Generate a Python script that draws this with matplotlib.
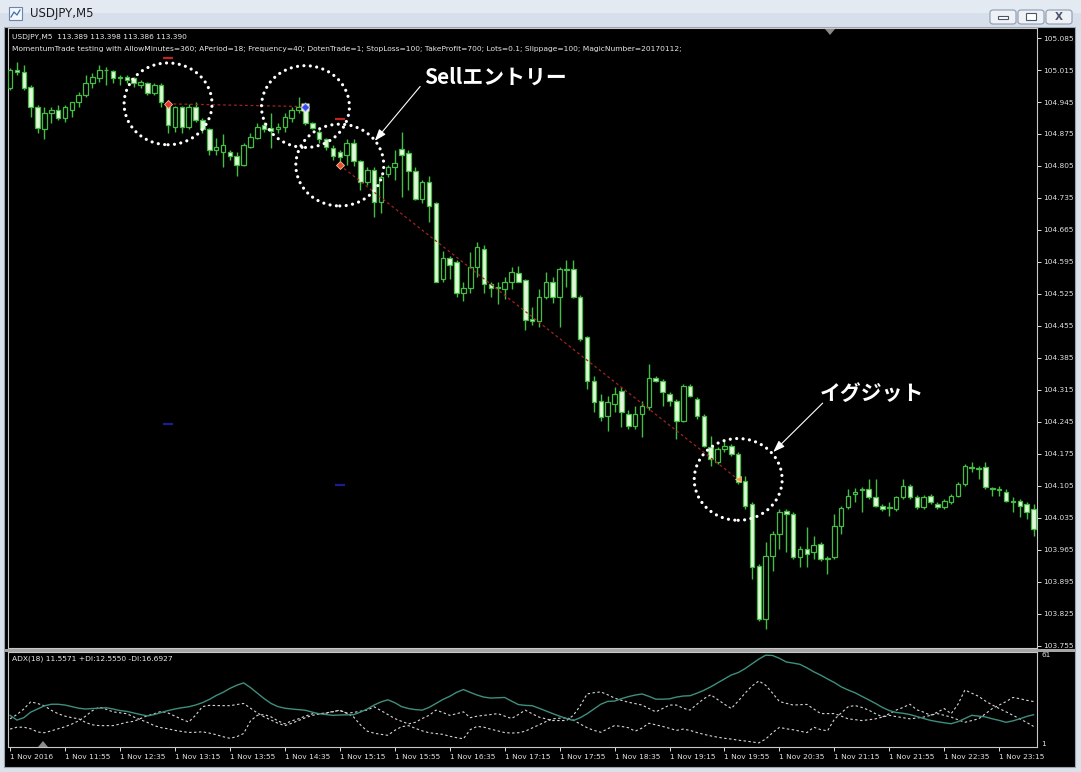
import numpy as np
import matplotlib
matplotlib.use('Agg')
import matplotlib.pyplot as plt
from matplotlib.patches import Ellipse, Rectangle, FancyBboxPatch, Polygon
from matplotlib.transforms import blended_transform_factory

# ---------------- data ----------------
window_title = "USDJPY,M5"
symbol_line = "USDJPY,M5  113.389 113.398 113.386 113.390"
ea_line = ("MomentumTrade testing with AllowMinutes=360; APeriod=18; Frequency=40; DotenTrade=1; "
           "StopLoss=100; TakeProfit=700; Lots=0.1; Slippage=100; MagicNumber=20170112;")
adx_line = "ADX(18) 11.5571 +DI:12.5550 -DI:16.6927"

opens = [104.976, 105.016, 105.011, 104.978, 104.933, 104.885, 104.922, 104.928, 104.911, 104.928,
         104.946, 104.961, 104.987, 104.998, 105.016, 105.013, 105.000, 105.000, 104.998, 104.983,
         104.987, 104.965, 104.983, 104.939, 104.891, 104.933, 104.891, 104.933, 104.906, 104.885,
         104.841, 104.836, 104.836, 104.826, 104.808, 104.847, 104.867, 104.895, 104.889, 104.885,
         104.891, 104.911, 104.928, 104.939, 104.898, 104.880, 104.863, 104.845, 104.836, 104.830,
         104.856, 104.815, 104.771, 104.797, 104.727, 104.788, 104.802, 104.843, 104.834, 104.793,
         104.732, 104.769, 104.725, 104.557, 104.603, 104.594, 104.528, 104.539, 104.583, 104.624,
         104.546, 104.541, 104.535, 104.550, 104.570, 104.555, 104.469, 104.465, 104.518, 104.550,
         104.518, 104.579, 104.579, 104.518, 104.430, 104.334, 104.290, 104.257, 104.283, 104.312,
         104.262, 104.235, 104.262, 104.277, 104.342, 104.334, 104.305, 104.290, 104.246, 104.323,
         104.294, 104.257, 104.189, 104.157, 104.185, 104.192, 104.174, 104.115, 104.065, 103.929,
         103.814, 103.951, 103.999, 104.050, 104.043, 103.949, 103.966, 103.960, 103.977, 103.945,
         103.949, 104.017, 104.058, 104.087, 104.098, 104.098, 104.080, 104.060, 104.058, 104.054,
         104.080, 104.104, 104.080, 104.058, 104.082, 104.065, 104.058, 104.069, 104.082, 104.109,
         104.146, 104.144, 104.146, 104.100, 104.098, 104.091, 104.071, 104.071, 104.065, 104.054]
highs = [105.020, 105.033, 105.027, 104.983, 104.939, 104.933, 104.935, 104.939, 104.939, 104.946,
         104.968, 105.005, 105.009, 105.027, 105.022, 105.016, 105.005, 105.005, 105.000, 104.994,
         104.989, 104.987, 104.987, 104.941, 104.937, 104.937, 104.941, 104.946, 104.911, 104.889,
         104.867, 104.874, 104.841, 104.836, 104.856, 104.878, 104.900, 104.902, 104.922, 104.898,
         104.922, 104.935, 104.957, 104.946, 104.902, 104.885, 104.867, 104.852, 104.841, 104.863,
         104.863, 104.819, 104.802, 104.802, 104.786, 104.808, 104.841, 104.880, 104.841, 104.802,
         104.775, 104.782, 104.727, 104.618, 104.607, 104.600, 104.552, 104.616, 104.638, 104.633,
         104.552, 104.552, 104.561, 104.583, 104.585, 104.557, 104.496, 104.535, 104.572, 104.563,
         104.583, 104.600, 104.600, 104.522, 104.432, 104.345, 104.305, 104.301, 104.321, 104.321,
         104.272, 104.279, 104.290, 104.371, 104.345, 104.338, 104.310, 104.294, 104.327, 104.327,
         104.299, 104.262, 104.213, 104.189, 104.203, 104.196, 104.178, 104.126, 104.069, 103.934,
         103.982, 104.006, 104.054, 104.054, 104.047, 103.973, 104.015, 103.995, 103.982, 103.951,
         104.043, 104.060, 104.098, 104.100, 104.102, 104.119, 104.119, 104.065, 104.069, 104.082,
         104.119, 104.109, 104.085, 104.085, 104.087, 104.069, 104.076, 104.087, 104.113, 104.152,
         104.157, 104.148, 104.157, 104.102, 104.104, 104.098, 104.080, 104.076, 104.069, 104.065]
lows = [104.972, 105.005, 104.972, 104.913, 104.878, 104.863, 104.900, 104.906, 104.902, 104.913,
        104.935, 104.957, 104.976, 104.989, 104.983, 104.987, 104.983, 104.987, 104.978, 104.976,
        104.961, 104.961, 104.935, 104.878, 104.880, 104.878, 104.885, 104.902, 104.878, 104.830,
        104.830, 104.802, 104.819, 104.782, 104.804, 104.845, 104.863, 104.880, 104.845, 104.878,
        104.880, 104.902, 104.922, 104.895, 104.885, 104.856, 104.841, 104.819, 104.815, 104.808,
        104.804, 104.753, 104.764, 104.694, 104.703, 104.780, 104.775, 104.738, 104.753, 104.730,
        104.725, 104.683, 104.550, 104.550, 104.557, 104.518, 104.509, 104.528, 104.563, 104.528,
        104.518, 104.502, 104.513, 104.535, 104.550, 104.447, 104.458, 104.452, 104.513, 104.506,
        104.452, 104.541, 104.517, 104.421, 104.316, 104.266, 104.246, 104.224, 104.266, 104.233,
        104.229, 104.229, 104.211, 104.272, 104.332, 104.279, 104.279, 104.207, 104.244, 104.299,
        104.251, 104.189, 104.148, 104.152, 104.178, 104.170, 104.109, 104.054, 103.901, 103.809,
        103.792, 103.918, 103.966, 103.960, 103.945, 103.927, 103.927, 103.945, 103.940, 103.912,
        103.945, 103.999, 104.054, 104.069, 104.047, 104.076, 104.058, 104.050, 104.039, 104.050,
        104.076, 104.076, 104.054, 104.054, 104.065, 104.054, 104.054, 104.065, 104.080, 104.104,
        104.135, 104.119, 104.098, 104.082, 104.082, 104.069, 104.047, 104.036, 104.032, 103.995]
closes = [105.016, 105.011, 104.976, 104.933, 104.889, 104.922, 104.928, 104.911, 104.933, 104.944,
          104.961, 104.987, 105.000, 105.016, 105.014, 104.998, 104.998, 104.994, 104.987, 104.989,
          104.965, 104.983, 104.944, 104.895, 104.933, 104.891, 104.933, 104.906, 104.885, 104.841,
          104.847, 104.852, 104.826, 104.808, 104.852, 104.869, 104.891, 104.885, 104.882, 104.891,
          104.913, 104.928, 104.933, 104.900, 104.889, 104.863, 104.847, 104.826, 104.824, 104.856,
          104.815, 104.771, 104.797, 104.727, 104.780, 104.802, 104.812, 104.830, 104.793, 104.732,
          104.771, 104.718, 104.552, 104.603, 104.589, 104.528, 104.539, 104.583, 104.627, 104.546,
          104.539, 104.537, 104.550, 104.572, 104.552, 104.467, 104.465, 104.518, 104.550, 104.518,
          104.579, 104.577, 104.518, 104.426, 104.334, 104.288, 104.255, 104.288, 104.305, 104.266,
          104.235, 104.262, 104.279, 104.342, 104.334, 104.310, 104.290, 104.246, 104.323, 104.301,
          104.257, 104.192, 104.163, 104.185, 104.192, 104.174, 104.113, 104.060, 103.927, 103.814,
          103.951, 103.999, 104.047, 104.043, 103.949, 103.966, 103.956, 103.975, 103.945, 103.947,
          104.017, 104.056, 104.082, 104.091, 104.096, 104.080, 104.060, 104.054, 104.056, 104.080,
          104.104, 104.080, 104.058, 104.080, 104.069, 104.058, 104.071, 104.082, 104.109, 104.148,
          104.144, 104.142, 104.102, 104.098, 104.096, 104.071, 104.069, 104.060, 104.047, 104.010]

adx = [21, 18, 19.5, 23, 25, 27, 28, 28, 27.5, 26.5, 25.5, 25, 25.3, 25.5, 25.8, 25, 24, 23.5, 22.5, 21.5,
       20.6, 21.5, 22.8, 24, 25, 25.8, 26.4, 27.5, 29, 31, 33.5, 35.5, 38, 40, 41.5, 38.5, 35, 31.5, 28.5, 26.5,
       25.5, 25, 24.6, 24.2, 23, 22, 21.5, 21, 21.2, 21.3, 21.4, 23, 25, 27.5, 29.5, 30.8, 29, 26.5, 25.3, 24.6,
       24.3, 26, 28.5, 31, 33, 35.5, 37.3, 35.5, 33.8, 32.5, 31.9, 32.1, 32.3, 30, 27.8, 27.3, 27.1, 25.5, 23.8, 22.1,
       20.5, 19, 17.7, 19.5, 22, 25, 28, 29.8, 30, 31.5, 32.8, 33.8, 34.5, 33, 31.2, 31.2, 31.4, 32.5, 33.2, 33.4,
       35, 36.8, 39, 41.5, 44, 46.5, 48, 50.5, 53.5, 56.5, 59, 58.8, 57, 54.7, 54, 53.2, 51, 48.5, 46.4, 44,
       41.7, 39, 37, 35.3, 33, 30.8, 28.5, 26, 24, 22.8, 22.3, 21.5, 20.3, 19, 17.8, 17, 16.3, 15.7, 17, 19,
       21, 20.5, 20, 18.8, 17.8, 16.6, 17.5, 18.8, 20.3, 21.4]
plus_di = [12.3, 13.5, 13.5, 12.5, 10.5, 10, 11.2, 12.5, 13.8, 15.5, 17.5, 20.5, 24, 26.2, 24.8, 23.2, 22.6, 22, 20, 18.2,
           16.5, 14.5, 13.2, 12.5, 11.5, 10.8, 10.2, 10.3, 10.6, 9.8, 8.8, 7.5, 6.5, 7.5, 9.5, 17.5, 21, 21.5, 20, 17.5,
           15.6, 17.5, 18.8, 20.5, 22, 22.1, 22.3, 23.5, 24, 22.5, 20, 15, 11, 9.7, 9, 8.4, 11.5, 13.8, 14.5, 12.8,
           11.2, 10, 9.5, 9, 7.8, 6.9, 6.2, 12, 14, 13.5, 12.2, 11.2, 10.1, 9.8, 10, 11, 13, 15, 17, 18.8,
           19.2, 19.5, 18, 15.5, 13.2, 11.5, 10.3, 12.5, 14.5, 14, 13.2, 11, 13, 16, 15, 14, 12.8, 11.5, 12.3, 11.5,
           10.1, 9, 8, 7.2, 6.5, 6, 5.3, 4.8, 4.2, 3.6, 6, 10, 13.4, 12.5, 11.9, 11, 10.1, 13.5, 12, 11.2,
           18.5, 22.5, 26.4, 27.2, 26, 24.3, 22, 20, 22, 24.3, 26, 28, 24.5, 23, 21, 23, 25.3, 22, 28, 37,
           35, 33, 30, 27.5, 25.3, 23.2, 21, 18.8, 16.5, 14]
minus_di = [18.8, 21.5, 25, 29.5, 28.5, 27, 24.2, 22, 20.5, 19.5, 18.8, 16.5, 15, 14.5, 14.5, 14.5, 15.5, 16.6, 17.2, 19,
            20.8, 22, 23.5, 22.5, 20.5, 18.5, 16.8, 21, 26.5, 27.3, 27.2, 27.1, 27.1, 27.8, 28.5, 25.5, 22.5, 20, 18, 16,
            14.5, 16, 17.7, 19.5, 21, 21.8, 22.6, 23.2, 24.3, 22.3, 22.8, 23.6, 24.3, 26.4, 24, 21.5, 19, 17.2, 15.6, 16.6,
            19, 21, 24.3, 22.8, 21, 22, 23.2, 19.5, 20.5, 21, 21.5, 22.1, 20.5, 19, 21.5, 24.3, 22, 19.9, 18.8, 17.7,
            17.7, 17.7, 21, 27, 34.5, 35.3, 35.8, 34, 31.9, 30.5, 29.3, 28.4, 27.5, 25.3, 23.2, 25.3, 27.5, 27.5, 25.5, 24.3,
            28, 31.5, 34, 31, 28, 25.3, 30, 35, 39.5, 42.7, 40, 35, 29.7, 28.6, 27.5, 27.7, 27.9, 25, 22.1, 22.1,
            22.1, 20.5, 18.8, 18.3, 17.7, 18.2, 18.8, 19.9, 21, 20.2, 19.5, 18.8, 19.3, 19.9, 21, 22.1, 21, 19.9, 18.2, 16.6,
            17.7, 18.8, 22, 25.3, 27.5, 29.7, 32.3, 31.5, 30.5, 29.7]

time_labels = ["1 Nov 2016", "1 Nov 11:55", "1 Nov 12:35", "1 Nov 13:15", "1 Nov 13:55", "1 Nov 14:35",
               "1 Nov 15:15", "1 Nov 15:55", "1 Nov 16:35", "1 Nov 17:15", "1 Nov 17:55", "1 Nov 18:35",
               "1 Nov 19:15", "1 Nov 19:55", "1 Nov 20:35", "1 Nov 21:15", "1 Nov 21:55", "1 Nov 22:35",
               "1 Nov 23:15"]
bars_per_label = 8
price_labels = ["105.085", "105.015", "104.945", "104.875", "104.805", "104.735", "104.665", "104.595",
                "104.525", "104.455", "104.385", "104.315", "104.245", "104.175", "104.105", "104.035",
                "103.965", "103.895", "103.825", "103.755"]
adx_scale_labels = ["61", "1"]

entry_bar = [23, 48]
entry_price = [104.941, 104.807]
exit_bar = [43, 106]
exit_price = [104.935, 104.119]
stop_loss_points = 100
take_profit_points = 700
point = 0.001

sell_text = "Sellエントリー"
exit_text = "イグジット"

# ---------------- figure ----------------
W, H = 1081, 772
fig = plt.figure(figsize=(W / 100, H / 100), dpi=100)
fig.patch.set_facecolor('#d9e1eb')

def fx(px):
    return px / W

def fy(py):
    return 1 - py / H

def frect(x0, y0, x1, y1, z=-10, **kw):
    r = Rectangle((fx(x0), fy(y1)), fx(x1) - fx(x0), fy(y0) - fy(y1), transform=fig.transFigure,
                  zorder=z, **kw)
    fig.add_artist(r)
    return r

# title bar
frect(0, 0, W, 26, facecolor='#e4eaf2', edgecolor='none')
frect(0, 13, W, 26, facecolor='#d7dfea', edgecolor='none')
fig.text(fx(30), fy(14), window_title, fontsize=8.5, color='#1e1e1e', va='center', ha='left')
# icon
frect(9, 7, 22, 20, z=5, facecolor='#f4f7fb', edgecolor='#6a86aa', lw=0.8)
fig.add_artist(plt.Line2D([fx(11), fx(14), fx(17), fx(20)], [fy(17), fy(12), fy(15), fy(10)],
                          transform=fig.transFigure, color='#3a6fb0', lw=0.9, zorder=6))
# buttons
for bx in (990, 1018, 1046):
    b = FancyBboxPatch((fx(bx), fy(24)), fx(26), fy(10) - fy(24), boxstyle='round,pad=0,rounding_size=0.003',
                       transform=fig.transFigure, facecolor='#eef2f7', edgecolor='#8d9bb0', lw=0.8, zorder=5)
    fig.add_artist(b)
frect(998, 16, 1008, 19, z=6, facecolor='white', edgecolor='#4a5668', lw=0.8)
frect(1026, 13, 1036, 20, z=6, facecolor='white', edgecolor='#4a5668', lw=0.8)
fig.text(fx(1059), fy(17), 'X', fontsize=7.5, color='#4a5668', ha='center', va='center',
         fontweight='bold', zorder=8)

# black chart window
frect(4, 27, 1075, 767, facecolor='black', edgecolor='#9aa4b0', lw=0.8)

# axes
ax = fig.add_axes([fx(8), fy(648), fx(1037) - fx(8), fy(28) - fy(648)])
ax2 = fig.add_axes([fx(8), fy(747), fx(1037) - fx(8), fy(652) - fy(747)])
frect(5, 648.5, 1075, 652, z=-5, facecolor='#a6a6a6', edgecolor='none')

for a in (ax, ax2):
    a.set_facecolor('black')
    for s in a.spines.values():
        s.set_color('#c8c8c8')
        s.set_linewidth(0.8)

o = np.array(opens); h = np.array(highs); l = np.array(lows); c = np.array(closes)
x = np.arange(len(o))
up = c >= o
green = '#45bd45'
bear_fill = '#e2f7da'
ax.vlines(x, l, h, color=green, lw=1.0, zorder=2)
bottom = np.minimum(o, c)
height = np.maximum(np.abs(c - o), 0.0006)
ax.bar(x[up], height[up], bottom=bottom[up], width=0.66, facecolor='black', edgecolor=green, lw=0.9, zorder=3)
ax.bar(x[~up], height[~up], bottom=bottom[~up], width=0.66, facecolor=bear_fill, edgecolor=green, lw=0.9, zorder=3)

ax.set_xlim(-0.3, len(o) - 0.5)
ax.set_ylim(103.750, 105.107)
price_vals = [float(p) for p in price_labels]
ax.yaxis.tick_right()
ax.set_yticks(price_vals)
ax.set_yticklabels(price_labels)
ax.tick_params(axis='y', colors='#e0e0e0', labelsize=5.3, length=3, width=0.7, pad=1.5)
ax.set_xticks([])

# trades
for eb, ep, xb, xp in zip(entry_bar, entry_price, exit_bar, exit_price):
    ax.plot([eb, xb], [ep, xp], color='#a3231f', lw=0.9, ls=(0, (2.2, 2.2)), zorder=4)
    ax.plot([eb], [ep + stop_loss_points * point], marker='_', ms=7, mew=1.6, color='#c02424', zorder=4)
    ax.plot([eb], [ep - take_profit_points * point], marker='_', ms=7, mew=1.6, color='#1c1c9a', zorder=4)
ax.plot(entry_bar[0], entry_price[0], marker='D', ms=4, mfc='#e0382a', mec='#ffb0a0', mew=0.6, zorder=6)
ax.plot(exit_bar[0], exit_price[0], marker='s', ms=6, mfc='#f3ecc8', mec='none', zorder=5)
ax.plot(exit_bar[0], exit_price[0], marker='D', ms=4, mfc='#3348f0', mec='#b0b8ff', mew=0.6, zorder=6)
ax.plot(entry_bar[1], entry_price[1], marker='D', ms=4, mfc='#e0502a', mec='#ffc0a0', mew=0.6, zorder=6)
ax.plot(exit_bar[1], exit_price[1], marker='<', ms=4.5, mfc='#e8a040', mec='#f6d090', mew=0.5, zorder=6)

# dotted circles around entries / exits
circ_w, circ_h = 12.8, 0.179
for cx, cy in [(entry_bar[0], entry_price[0]), (exit_bar[0], exit_price[0]),
               (entry_bar[1], entry_price[1]), (exit_bar[1], exit_price[1])]:
    e = Ellipse((cx, cy), circ_w, circ_h, fill=False, edgecolor='white', lw=2.3,
                ls=(0, (0.01, 2.0)), capstyle='round', zorder=7)
    ax.add_patch(e)

jp = ['Noto Sans CJK JP', 'DejaVu Sans']
ax.text(70.7, 105.000, sell_text, color='white', fontsize=15, fontweight='bold', family=jp,
        ha='center', va='center', zorder=8)
ax.annotate('', xy=(53.1, 104.860), xytext=(59.7, 104.979),
            arrowprops=dict(arrowstyle='-|>,head_length=0.7,head_width=0.25', color='white', lw=0.8,
                            shrinkA=0, shrinkB=0), zorder=8)
ax.text(125.5, 104.308, exit_text, color='white', fontsize=15, fontweight='bold', family=jp,
        ha='center', va='center', zorder=8)
ax.annotate('', xy=(111.1, 104.179), xytext=(118.3, 104.286),
            arrowprops=dict(arrowstyle='-|>,head_length=0.7,head_width=0.25', color='white', lw=0.8,
                            shrinkA=0, shrinkB=0), zorder=8)

# header text
fig.text(fx(12), fy(37), symbol_line, fontsize=5.4, color='#e8e8e8', va='center', ha='left')
fig.text(fx(12), fy(49), ea_line, fontsize=5.4, color='#e8e8e8', va='center', ha='left')
# chart-shift marker
fig.add_artist(Polygon([[fx(825), fy(29)], [fx(835), fy(29)], [fx(830), fy(35)]], closed=True,
                       transform=fig.transFigure, facecolor='#8a8a8a', edgecolor='none', zorder=5))

# ADX panel
ax2.plot(x, adx, color='#3f8e7e', lw=1.0, zorder=3)
ax2.plot(x, plus_di, color='#d6d6d6', lw=0.8, ls=(0, (2.2, 2.2)), zorder=2)
ax2.plot(x, minus_di, color='#d6d6d6', lw=0.8, ls=(0, (2.2, 2.2)), zorder=2)
ax2.set_xlim(-0.3, len(o) - 0.5)
ax2.set_ylim(1, 61)
ax2.set_yticks([])
tr = blended_transform_factory(ax2.transAxes, ax2.transData)
ax2.text(1.004, 61, adx_scale_labels[0], transform=tr, color='#e0e0e0', fontsize=5.3, va='top', ha='left')
ax2.text(1.004, 1, adx_scale_labels[1], transform=tr, color='#e0e0e0', fontsize=5.3, va='bottom', ha='left')
ax2.text(0.004, 0.93, adx_line, transform=ax2.transAxes, color='#e8e8e8', fontsize=5.4, va='center', ha='left')
ax2.set_xticks(np.arange(len(time_labels)) * bars_per_label)
ax2.set_xticklabels(time_labels)
for lbl in ax2.get_xticklabels():
    lbl.set_ha('left')
ax2.tick_params(axis='x', colors='#e0e0e0', labelsize=5.4, length=3, width=0.7, pad=2)
fig.add_artist(Polygon([[fx(38), fy(747)], [fx(48), fy(747)], [fx(43), fy(741)]], closed=True,
                       transform=fig.transFigure, facecolor='#8a8a8a', edgecolor='none', zorder=5))

fig.savefig('out.png', dpi=100, facecolor=fig.get_facecolor())
